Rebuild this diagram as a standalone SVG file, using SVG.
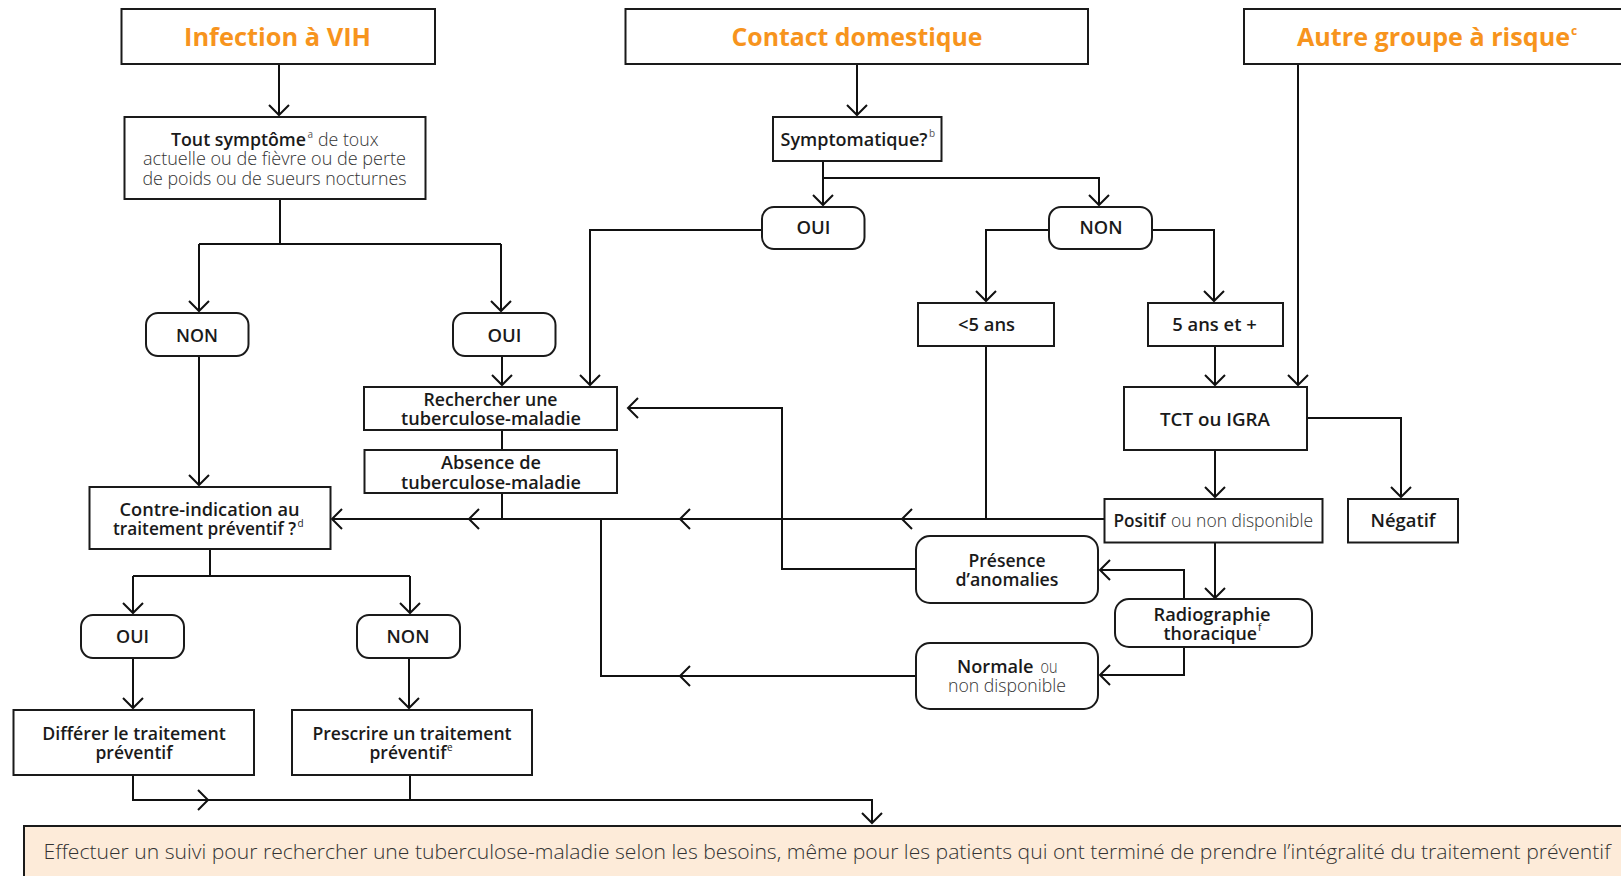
<svg xmlns="http://www.w3.org/2000/svg" width="1621" height="876" viewBox="0 0 1621 876">
  <style>
    .box { fill: #ffffff; stroke: #1a1a1a; stroke-width: 2; }
    .note { fill: #fdebd9; stroke: #1a1a1a; stroke-width: 2; }
    .wire { fill: none; stroke: #111111; stroke-width: 2; stroke-linejoin: miter; }
    .chev { fill: none; stroke: #111111; stroke-width: 2; stroke-linejoin: miter; }
    text { font-family: "Open Sans", "Noto Sans", "Liberation Sans", sans-serif; }
    .title { font-size: 25px; font-weight: 700; fill: #f7941d; }
    .b { font-size: 18.5px; font-weight: 600; fill: #1a1a1a; }
    .l { font-size: 18.5px; font-weight: 300; fill: #333333; }
    .sup { font-size: 10px; font-weight: 400; fill: #555555; }
    .foot { font-size: 21px; font-weight: 300; fill: #333333; }
    .m { text-anchor: middle; }
  </style>
  <defs>
    <marker id="tip" markerUnits="userSpaceOnUse" markerWidth="24" markerHeight="24" viewBox="-12 -12 24 24" refX="0" refY="0" orient="auto">
      <path d="M-10,-10 L0,0 L-10,10" fill="none" stroke="#111111" stroke-width="2"/>
    </marker>
  </defs>

  <!-- connectors -->
  <g id="connectors">
    <!-- VIH branch -->
    <path class="wire" d="M279,64 V115" marker-end="url(#tip)"/>
    <path class="wire" d="M280,199 V244"/>
    <path class="wire" d="M199,244 H501"/>
    <path class="wire" d="M199,244 V311" marker-end="url(#tip)"/>
    <path class="wire" d="M501,244 V311" marker-end="url(#tip)"/>
    <path class="wire" d="M199,356 V485" marker-end="url(#tip)"/>
    <path class="wire" d="M502,356 V385" marker-end="url(#tip)"/>
    <path class="wire" d="M502,430 V450"/>
    <path class="wire" d="M502,493 V519"/>

    <!-- contact branch -->
    <path class="wire" d="M857,64 V115" marker-end="url(#tip)"/>
    <path class="wire" d="M823,161 V178 H1099 V205" marker-end="url(#tip)"/>
    <path class="wire" d="M823,178 V205" marker-end="url(#tip)"/>
    <path class="wire" d="M762,230 H590 V385" marker-end="url(#tip)"/>
    <path class="wire" d="M1049,230 H986 V301" marker-end="url(#tip)"/>
    <path class="wire" d="M1152,230 H1214 V301" marker-end="url(#tip)"/>
    <path class="wire" d="M986,346 V519"/>
    <path class="wire" d="M1215,346 V385" marker-end="url(#tip)"/>

    <!-- other risk group -->
    <path class="wire" d="M1298,64 V385" marker-end="url(#tip)"/>

    <!-- test results -->
    <path class="wire" d="M1307,418 H1401 V497" marker-end="url(#tip)"/>
    <path class="wire" d="M1215,450 V497" marker-end="url(#tip)"/>
    <path class="wire" d="M1215,542 V598" marker-end="url(#tip)"/>
    <path class="wire" d="M1184,599 V570 H1100" marker-end="url(#tip)"/>
    <path class="wire" d="M1184,647 V675 H1100" marker-end="url(#tip)"/>
    <path class="wire" d="M916,569 H782 V408 H628" marker-end="url(#tip)"/>
    <path class="wire" d="M916,676 H601 V519"/>

    <!-- shared return line to the contra-indication check -->
    <path class="wire" d="M1105,519 H332" marker-end="url(#tip)"/>
    <path class="chev" d="M479,509 L469,519 L479,529"/>
    <path class="chev" d="M690,509 L680,519 L690,529"/>
    <path class="chev" d="M912,509 L902,519 L912,529"/>
    <path class="chev" d="M690,666 L680,676 L690,686"/>

    <!-- contra-indication outcomes -->
    <path class="wire" d="M210,549 V576"/>
    <path class="wire" d="M133,576 H410"/>
    <path class="wire" d="M133,576 V613" marker-end="url(#tip)"/>
    <path class="wire" d="M410,576 V613" marker-end="url(#tip)"/>
    <path class="wire" d="M133,658 V708" marker-end="url(#tip)"/>
    <path class="wire" d="M409,658 V708" marker-end="url(#tip)"/>

    <!-- follow-up -->
    <path class="wire" d="M133,775 V800 H872 V823" marker-end="url(#tip)"/>
    <path class="wire" d="M410,775 V800"/>
    <path class="chev" d="M198,790 L208,800 L198,810"/>
  </g>

  <!-- entry points -->
  <g id="n-vih">
    <rect class="box" x="121.5" y="9" width="313.5" height="55"/>
    <text class="title m" x="277.5" y="46" textLength="187" lengthAdjust="spacingAndGlyphs">Infection à VIH</text>
  </g>
  <g id="n-contact">
    <rect class="box" x="625.5" y="9" width="462.5" height="55"/>
    <text class="title m" x="857" y="46" textLength="251" lengthAdjust="spacingAndGlyphs">Contact domestique</text>
  </g>
  <g id="n-autre">
    <rect class="box" x="1244" y="9" width="400" height="55"/>
    <text class="title" x="1297" y="46" textLength="273" lengthAdjust="spacingAndGlyphs">Autre groupe à risque</text>
    <text class="title" x="1571" y="35" style="font-size:12px">c</text>
  </g>

  <!-- VIH branch -->
  <g id="n-symptome">
    <rect class="box" x="124.5" y="117" width="301" height="82"/>
    <text class="b" x="171" y="146" textLength="135" lengthAdjust="spacingAndGlyphs">Tout symptôme</text>
    <text class="sup" x="307.5" y="138">a</text>
    <text class="l" x="318" y="146" textLength="60.5" lengthAdjust="spacingAndGlyphs">de toux</text>
    <text class="l" x="143" y="165" textLength="263" lengthAdjust="spacingAndGlyphs">actuelle ou de fièvre ou de perte</text>
    <text class="l" x="142.5" y="185" textLength="264" lengthAdjust="spacingAndGlyphs">de poids ou de sueurs nocturnes</text>
  </g>
  <g id="n-vih-non">
    <rect class="box" x="146" y="313" width="102.5" height="43" rx="12"/>
    <text class="b m" x="197" y="341.5" textLength="42" lengthAdjust="spacingAndGlyphs">NON</text>
  </g>
  <g id="n-vih-oui">
    <rect class="box" x="453" y="313" width="102.5" height="43" rx="12"/>
    <text class="b m" x="504.5" y="341.5" textLength="34" lengthAdjust="spacingAndGlyphs">OUI</text>
  </g>
  <g id="n-rechercher">
    <rect class="box" x="364" y="387" width="253" height="43"/>
    <text class="b m" x="490.5" y="405.5" textLength="134" lengthAdjust="spacingAndGlyphs">Rechercher une</text>
    <text class="b m" x="491" y="425" textLength="180" lengthAdjust="spacingAndGlyphs">tuberculose-maladie</text>
  </g>
  <g id="n-absence">
    <rect class="box" x="364.5" y="450" width="252.5" height="43"/>
    <text class="b m" x="491" y="469" textLength="100" lengthAdjust="spacingAndGlyphs">Absence de</text>
    <text class="b m" x="491" y="488.5" textLength="180" lengthAdjust="spacingAndGlyphs">tuberculose-maladie</text>
  </g>
  <g id="n-contre-indication">
    <rect class="box" x="89.5" y="487" width="241" height="62"/>
    <text class="b m" x="209.5" y="516" textLength="180" lengthAdjust="spacingAndGlyphs">Contre-indication au</text>
    <text class="b" x="113" y="535" textLength="183" lengthAdjust="spacingAndGlyphs">traitement préventif ?</text>
    <text class="sup" x="297.5" y="527" style="fill:#222222">d</text>
  </g>
  <g id="n-ci-oui">
    <rect class="box" x="81" y="615" width="103" height="43" rx="12"/>
    <text class="b m" x="132.5" y="643" textLength="33" lengthAdjust="spacingAndGlyphs">OUI</text>
  </g>
  <g id="n-ci-non">
    <rect class="box" x="357" y="615" width="103" height="43" rx="12"/>
    <text class="b m" x="408" y="643" textLength="43" lengthAdjust="spacingAndGlyphs">NON</text>
  </g>
  <g id="n-differer">
    <rect class="box" x="13.5" y="710" width="240.5" height="65"/>
    <text class="b m" x="134" y="740" textLength="183.5" lengthAdjust="spacingAndGlyphs">Différer le traitement</text>
    <text class="b m" x="134" y="759" textLength="77" lengthAdjust="spacingAndGlyphs">préventif</text>
  </g>
  <g id="n-prescrire">
    <rect class="box" x="292" y="710" width="240" height="65"/>
    <text class="b m" x="412" y="740" textLength="199" lengthAdjust="spacingAndGlyphs">Prescrire un traitement</text>
    <text class="b" x="369.5" y="759" textLength="77" lengthAdjust="spacingAndGlyphs">préventif</text>
    <text class="sup" x="447" y="751" style="fill:#222222">e</text>
  </g>

  <!-- contact branch -->
  <g id="n-symptomatique">
    <rect class="box" x="773" y="117" width="168.5" height="44"/>
    <text class="b" x="780.5" y="146" textLength="147" lengthAdjust="spacingAndGlyphs">Symptomatique?</text>
    <text class="sup" x="929" y="137">b</text>
  </g>
  <g id="n-contact-oui">
    <rect class="box" x="762" y="207" width="102.5" height="42" rx="12"/>
    <text class="b m" x="813.5" y="234" textLength="34" lengthAdjust="spacingAndGlyphs">OUI</text>
  </g>
  <g id="n-contact-non">
    <rect class="box" x="1049" y="207" width="103" height="42" rx="12"/>
    <text class="b m" x="1101" y="234" textLength="43" lengthAdjust="spacingAndGlyphs">NON</text>
  </g>
  <g id="n-moins5">
    <rect class="box" x="918" y="303" width="136" height="43"/>
    <text class="b m" x="986.5" y="331" textLength="57" lengthAdjust="spacingAndGlyphs">&lt;5 ans</text>
  </g>
  <g id="n-plus5">
    <rect class="box" x="1148" y="303" width="135" height="43"/>
    <text class="b m" x="1214.5" y="331" textLength="84.5" lengthAdjust="spacingAndGlyphs">5 ans et +</text>
  </g>

  <!-- testing -->
  <g id="n-tct">
    <rect class="box" x="1124" y="387" width="183" height="63"/>
    <text class="b m" x="1215" y="425.5" textLength="110" lengthAdjust="spacingAndGlyphs">TCT ou IGRA</text>
  </g>
  <g id="n-positif">
    <rect class="box" x="1104.5" y="499" width="218" height="43.5"/>
    <text class="b" x="1113.5" y="526.5" textLength="52" lengthAdjust="spacingAndGlyphs">Positif</text>
    <text class="l" x="1171" y="526.5" textLength="142" lengthAdjust="spacingAndGlyphs">ou non disponible</text>
  </g>
  <g id="n-negatif">
    <rect class="box" x="1348" y="499" width="110" height="43.5"/>
    <text class="b m" x="1403" y="526.5" textLength="65" lengthAdjust="spacingAndGlyphs">Négatif</text>
  </g>
  <g id="n-radio">
    <rect class="box" x="1115" y="599" width="197" height="48" rx="14"/>
    <text class="b m" x="1212" y="620.5" textLength="117" lengthAdjust="spacingAndGlyphs">Radiographie</text>
    <text class="b" x="1163.5" y="639.5" textLength="93.5" lengthAdjust="spacingAndGlyphs">thoracique</text>
    <text class="sup" x="1258" y="631" style="fill:#222222">f</text>
  </g>
  <g id="n-presence">
    <rect class="box" x="916" y="536" width="182" height="67" rx="14"/>
    <text class="b m" x="1007" y="566.5" textLength="77" lengthAdjust="spacingAndGlyphs">Présence</text>
    <text class="b m" x="1007" y="586" textLength="103" lengthAdjust="spacingAndGlyphs">d’anomalies</text>
  </g>
  <g id="n-normale">
    <rect class="box" x="916" y="643" width="182" height="66" rx="14"/>
    <text class="b" x="957" y="673" textLength="76.5" lengthAdjust="spacingAndGlyphs">Normale</text>
    <text class="l" x="1040.5" y="673" textLength="17" lengthAdjust="spacingAndGlyphs">ou</text>
    <text class="l m" x="1007" y="692" textLength="118" lengthAdjust="spacingAndGlyphs">non disponible</text>
  </g>

  <!-- follow-up note -->
  <g id="n-suivi">
    <rect class="note" x="24" y="826" width="1620" height="60"/>
    <text class="foot" x="43.5" y="859" textLength="1567" lengthAdjust="spacingAndGlyphs">Effectuer un suivi pour rechercher une tuberculose-maladie selon les besoins, même pour les patients qui ont terminé de prendre l’intégralité du traitement préventif</text>
  </g>
</svg>
